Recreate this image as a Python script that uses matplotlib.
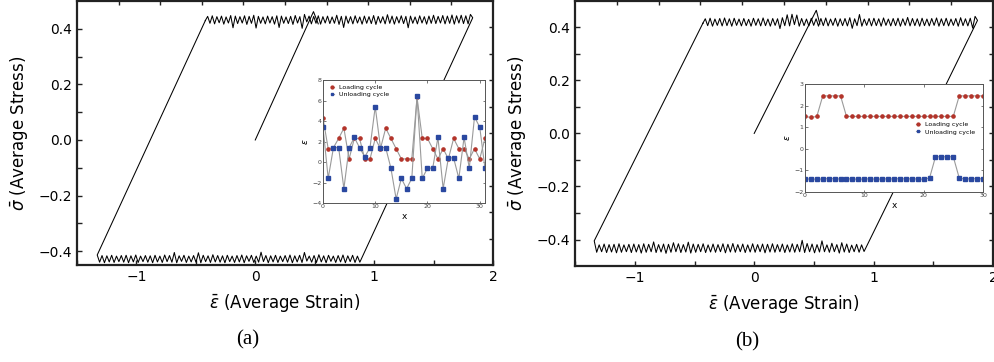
import numpy as np
import matplotlib.pyplot as plt

# ---- panel (a): average stress vs. average strain ----
a_load_strain = [0.0, 0.49, 0.53]
a_load_stress = [0.0, 0.462, 0.418]

a_top_span = (-0.42, 1.83)
a_top_stress = [
    0.430, 0.445, 0.420, 0.447, 0.418, 0.444, 0.422, 0.446, 0.417, 0.443,
    0.421, 0.448, 0.404, 0.446, 0.419, 0.444, 0.421, 0.447, 0.416, 0.445,
    0.420, 0.449, 0.403, 0.445, 0.420, 0.443, 0.418, 0.446, 0.421, 0.444,
    0.417, 0.447, 0.405, 0.446, 0.420, 0.443, 0.419, 0.445, 0.416, 0.448,
    0.421, 0.444, 0.402, 0.452, 0.425, 0.446, 0.418, 0.445, 0.420, 0.447,
    0.417, 0.444, 0.421, 0.446, 0.419, 0.443, 0.420, 0.449, 0.416, 0.445,
    0.405, 0.446, 0.420, 0.444, 0.418, 0.447, 0.421, 0.443, 0.417, 0.446,
    0.420, 0.444, 0.419, 0.448, 0.416, 0.445, 0.421, 0.444, 0.418, 0.451,
    0.420, 0.446, 0.417, 0.444, 0.421, 0.447, 0.419, 0.445, 0.404, 0.446,
    0.420, 0.443, 0.418, 0.447, 0.421, 0.444, 0.417, 0.446, 0.420, 0.449,
    0.419, 0.445, 0.421, 0.448, 0.418, 0.446, 0.420, 0.450, 0.417, 0.447,
    0.421, 0.449, 0.419, 0.447, 0.418, 0.452, 0.440,
]
a_bot_span = (0.88, -1.33)
a_bot_stress = [
    -0.440, -0.418, -0.441, -0.415, -0.438, -0.417, -0.442, -0.414, -0.439, -0.416,
    -0.441, -0.418, -0.437, -0.415, -0.442, -0.417, -0.439, -0.413, -0.441, -0.416,
    -0.440, -0.418, -0.436, -0.405, -0.441, -0.415, -0.439, -0.417, -0.442, -0.414,
    -0.440, -0.416, -0.438, -0.418, -0.441, -0.415, -0.439, -0.417, -0.442, -0.416,
    -0.438, -0.404, -0.440, -0.418, -0.441, -0.415, -0.437, -0.417, -0.442, -0.414,
    -0.439, -0.416, -0.441, -0.418, -0.438, -0.415, -0.442, -0.417, -0.440, -0.416,
    -0.439, -0.413, -0.441, -0.417, -0.438, -0.415, -0.442, -0.406, -0.440, -0.416,
    -0.439, -0.418, -0.441, -0.415, -0.437, -0.417, -0.442, -0.405, -0.440, -0.416,
    -0.438, -0.414, -0.441, -0.418, -0.439, -0.415, -0.442, -0.417, -0.440, -0.416,
    -0.438, -0.418, -0.441, -0.414, -0.439, -0.417, -0.442, -0.415, -0.440, -0.416,
    -0.438, -0.418, -0.441, -0.415, -0.439, -0.417, -0.442, -0.416, -0.440, -0.414,
]

# ---- panel (b) ----
b_load_strain = [0.0, 0.52, 0.55]
b_load_stress = [0.0, 0.464, 0.412]

b_top_span = (-0.43, 1.87)
b_top_stress = [
    0.415, 0.432, 0.406, 0.434, 0.404, 0.431, 0.407, 0.433, 0.405, 0.435,
    0.406, 0.432, 0.404, 0.434, 0.407, 0.431, 0.405, 0.433, 0.406, 0.430,
    0.404, 0.434, 0.407, 0.432, 0.405, 0.435, 0.406, 0.431, 0.404, 0.433,
    0.407, 0.432, 0.395, 0.436, 0.406, 0.447, 0.405, 0.449, 0.410, 0.446,
    0.404, 0.433, 0.406, 0.431, 0.405, 0.434, 0.407, 0.432, 0.404, 0.433,
    0.406, 0.435, 0.405, 0.431, 0.407, 0.434, 0.404, 0.432, 0.406, 0.433,
    0.405, 0.436, 0.396, 0.432, 0.406, 0.448, 0.404, 0.431, 0.407, 0.433,
    0.405, 0.434, 0.406, 0.432, 0.404, 0.435, 0.407, 0.431, 0.405, 0.433,
    0.406, 0.434, 0.404, 0.432, 0.407, 0.437, 0.405, 0.433, 0.406, 0.432,
    0.404, 0.434, 0.406, 0.431, 0.405, 0.433, 0.407, 0.435, 0.404, 0.432,
    0.406, 0.434, 0.405, 0.431, 0.407, 0.433, 0.404, 0.436, 0.406, 0.432,
    0.405, 0.434, 0.397, 0.441, 0.426,
]
b_bot_span = (0.92, -1.34)
b_bot_stress = [
    -0.445, -0.420, -0.448, -0.418, -0.446, -0.421, -0.449, -0.417, -0.447, -0.412,
    -0.451, -0.419, -0.446, -0.414, -0.448, -0.420, -0.446, -0.405, -0.447, -0.419,
    -0.450, -0.417, -0.446, -0.415, -0.449, -0.403, -0.446, -0.418, -0.448, -0.416,
    -0.447, -0.420, -0.449, -0.417, -0.446, -0.419, -0.448, -0.416, -0.447, -0.418,
    -0.450, -0.417, -0.446, -0.419, -0.448, -0.416, -0.447, -0.420, -0.449, -0.417,
    -0.446, -0.419, -0.448, -0.415, -0.447, -0.418, -0.450, -0.416, -0.446, -0.419,
    -0.448, -0.417, -0.447, -0.420, -0.449, -0.416, -0.446, -0.418, -0.448, -0.417,
    -0.451, -0.410, -0.447, -0.419, -0.449, -0.416, -0.446, -0.412, -0.448, -0.418,
    -0.452, -0.417, -0.447, -0.419, -0.449, -0.409, -0.446, -0.418, -0.448, -0.416,
    -0.451, -0.419, -0.447, -0.417, -0.449, -0.418, -0.446, -0.420, -0.448, -0.416,
    -0.450, -0.418, -0.447, -0.419, -0.449, -0.417, -0.446, -0.420, -0.448, -0.405,
]

# ---- insets: epsilon per site for loading / unloading cycles ----
a_sites = list(range(32))
a_loading = [4.3, 1.3, 1.4, 2.3, 3.3, 0.3, 2.3, 2.3, 0.3, 0.3, 2.3, 1.3, 3.3, 2.3, 1.3, 0.3,
             0.3, 0.3, 6.3, 2.3, 2.3, 1.3, 0.3, 1.3, 0.3, 2.3, 1.3, 1.3, 0.3, 1.3, 0.3, 2.3]
a_unloading = [3.4, -1.6, 1.4, 1.4, -2.6, 1.4, 2.4, 1.4, 0.5, 1.4, 5.4, 1.4, 1.4, -0.6, -3.6, -1.6,
               -2.6, -1.6, 6.4, -1.6, -0.6, -0.6, 2.4, -2.6, 0.4, 0.4, -1.6, 2.4, -0.6, 4.4, 3.4, -0.6]

b_sites = list(range(31))
b_loading = [1.5, 1.45, 1.5, 2.45, 2.45, 2.45, 2.45, 1.5, 1.5, 1.5, 1.5, 1.5, 1.5, 1.5, 1.5, 1.5,
             1.5, 1.5, 1.5, 1.5, 1.5, 1.5, 1.5, 1.5, 1.5, 1.5, 2.45, 2.45, 2.45, 2.45, 2.45]
b_unloading = [-1.4, -1.4, -1.41, -1.4, -1.38, -1.39, -1.4, -1.39, -1.4, -1.41, -1.4, -1.39,
               -1.41, -1.4, -1.39, -1.4, -1.38, -1.4, -1.39, -1.4, -1.41, -1.35, -0.37, -0.37,
               -0.37, -0.37, -1.35, -1.41, -1.38, -1.39, -1.39]

RED = '#b3342a'
BLUE = '#2a48a0'
SPINE = '#222222'

plt.rcParams['font.family'] = 'DejaVu Sans'
plt.rcParams['mathtext.fontset'] = 'dejavusans'

fig = plt.figure(figsize=(9.95, 3.62), dpi=100)


def loop_path(top_span, top_stress, bot_span, bot_stress):
    tx = np.linspace(top_span[0], top_span[1], len(top_stress))
    bx = np.linspace(bot_span[0], bot_span[1], len(bot_stress))
    xs = np.concatenate([tx, bx, tx[:1]])
    ys = np.concatenate([top_stress, bot_stress, top_stress[:1]])
    return xs, ys


def main_panel(rect, ylim, load_x, load_y, path):
    ax = fig.add_axes(rect)
    ax.plot(load_x, load_y, color='black', lw=0.75)
    ax.plot(path[0], path[1], color='black', lw=0.75)
    ax.set_xlim(-1.5, 2)
    ax.set_ylim(*ylim)
    ax.set_xticks([-1, 0, 1, 2])
    ax.set_xticks([-1.5, -0.5, 0.5, 1.5], minor=True)
    ax.set_yticks([-0.4, -0.2, 0.0, 0.2, 0.4])
    ax.set_yticks([-0.3, -0.1, 0.1, 0.3], minor=True)
    ax.tick_params(which='both', direction='in', length=3.5, width=1, color=SPINE,
                   labelsize=10, top=False, right=False)
    for s in ax.spines.values():
        s.set_linewidth(1.6)
        s.set_color(SPINE)
    ax.set_xlabel(r'$\bar{\epsilon}$ (Average Strain)', fontsize=12, labelpad=6)
    ax.set_ylabel(r'$\bar{\sigma}$ (Average Stress)', fontsize=12, labelpad=6)

    # top / right ticks sit on a 10-part grid of their own
    grid = fig.add_axes(rect, frameon=False)
    grid.set_xlim(0, 1)
    grid.set_ylim(0, 1)
    grid.set_xticks(np.arange(0.1, 1.0, 0.1))
    grid.set_yticks(np.arange(0.1, 1.0, 0.1))
    grid.tick_params(direction='in', length=3, width=1, color=SPINE,
                     bottom=False, left=False, top=True, right=True,
                     labelbottom=False, labelleft=False)
    grid.patch.set_visible(False)
    return ax


def inset(rect, x, load, unload, xlim, ylim, xticks, yticks, leg_loc, leg_anchor):
    ins = fig.add_axes(rect)
    ins.set_zorder(5)
    ins.plot(x, load, color='#9a9a9a', lw=0.8, marker='o', ms=2.3,
             mfc=RED, mec=RED, label='Loading cycle')
    ins.plot(x, unload, color='#9a9a9a', lw=0.8, marker='s', ms=2.3,
             mfc=BLUE, mec=BLUE, label='Unloading cycle')
    ins.set_xlim(*xlim)
    ins.set_ylim(*ylim)
    ins.set_xticks(xticks)
    ins.set_yticks(yticks)
    ins.tick_params(direction='in', length=1.8, width=0.5, labelsize=4.5, pad=1,
                    top=True, right=True, colors='#444444')
    for s in ins.spines.values():
        s.set_linewidth(0.7)
        s.set_color('#555555')
    ins.set_xlabel('x', fontsize=6.5, labelpad=2)
    ins.set_ylabel(r'$\epsilon$', fontsize=6.5, labelpad=2)
    ins.legend(loc=leg_loc, bbox_to_anchor=leg_anchor, frameon=False, fontsize=4.5,
               handlelength=0.6, handletextpad=0.8, borderpad=0.2, labelspacing=0.3,
               markerscale=0.9)
    return ins


ax_a = main_panel([0.0774, 0.268, 0.418, 0.729], (-0.45, 0.5), a_load_strain, a_load_stress,
                  loop_path(a_top_span, a_top_stress, a_bot_span, a_bot_stress))
ax_b = main_panel([0.578, 0.265, 0.420, 0.733], (-0.5, 0.5), b_load_strain, b_load_stress,
                  loop_path(b_top_span, b_top_stress, b_bot_span, b_bot_stress))

inset([0.3246, 0.4392, 0.1628, 0.3398], a_sites, a_loading, a_unloading,
      (0, 31), (-4, 8), [0, 10, 20, 30], [-4, -2, 0, 2, 4, 6, 8],
      'upper left', (0.02, 1.0))
inset([0.809, 0.4696, 0.1789, 0.2983], b_sites, b_loading, b_unloading,
      (0, 30), (-2, 3), [0, 10, 20, 30], [-2, -1, 0, 1, 2, 3],
      'center left', (0.6, 0.59))

fig.text(0.249, 1 - 340 / 362, '(a)', family='Liberation Serif', fontsize=15,
         ha='center', va='center')
fig.text(0.751, 1 - 342 / 362, '(b)', family='Liberation Serif', fontsize=15,
         ha='center', va='center')

fig.savefig('out.png', dpi=100)
